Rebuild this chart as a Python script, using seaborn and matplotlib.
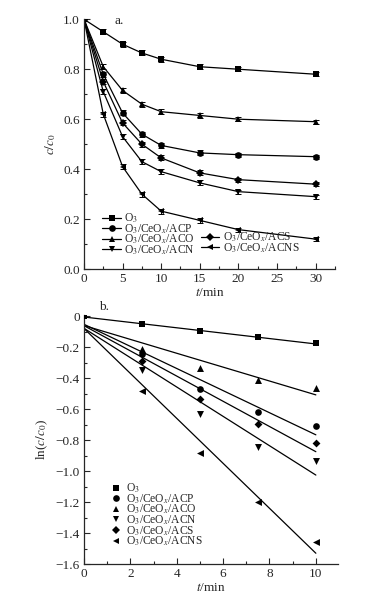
import numpy as np
import pandas as pd
import seaborn as sns
import matplotlib.pyplot as plt
from matplotlib.lines import Line2D
from matplotlib.ticker import MultipleLocator

# ---- data ----
samples = ['O3', 'ACP', 'ACO', 'ACN', 'ACS', 'ACNS']
labels = ['O$_3$', 'O$_3$/CeO$_x$/ACP', 'O$_3$/CeO$_x$/ACO',
          'O$_3$/CeO$_x$/ACN', 'O$_3$/CeO$_x$/ACS', 'O$_3$/CeO$_x$/ACNS']
markers = ['s', 'o', '^', 'v', 'D', '<']
msizes = [4.5, 4.8, 5, 5, 4, 5]

t_a = [0, 2.5, 5, 7.5, 10, 15, 20, 30]
c_o3 = [1.0, 0.95, 0.90, 0.865, 0.84, 0.81, 0.80, 0.78]
c_acp = [1.0, 0.78, 0.625, 0.54, 0.495, 0.465, 0.458, 0.45]
c_aco = [1.0, 0.81, 0.715, 0.66, 0.63, 0.615, 0.60, 0.59]
c_acn = [1.0, 0.71, 0.53, 0.43, 0.39, 0.345, 0.31, 0.29]
c_acs = [1.0, 0.75, 0.585, 0.50, 0.445, 0.385, 0.358, 0.34]
c_acns = [1.0, 0.62, 0.41, 0.30, 0.232, 0.195, 0.158, 0.12]
err_a = [0, 0.01, 0.01, 0.01, 0.01, 0.01, 0.008, 0.008]

t_b = [0, 2.5, 5, 7.5, 10]
ln_o3 = [0, -0.05, -0.095, -0.135, -0.175]
ln_acp = [0, -0.245, -0.47, -0.62, -0.705]
ln_aco = [0, -0.21, -0.335, -0.41, -0.46]
ln_acn = [0, -0.345, -0.63, -0.845, -0.935]
ln_acs = [0, -0.29, -0.535, -0.695, -0.815]
ln_acns = [0, -0.48, -0.885, -1.20, -1.455]

series_a = [c_o3, c_acp, c_aco, c_acn, c_acs, c_acns]
series_b = [ln_o3, ln_acp, ln_aco, ln_acn, ln_acs, ln_acns]

df_a = pd.DataFrame([(s, t, v) for s, vals in zip(samples, series_a)
                     for t, v in zip(t_a, vals)], columns=['sample', 't', 'c'])
df_b = pd.DataFrame([(s, t, v) for s, vals in zip(samples, series_b)
                     for t, v in zip(t_b, vals)], columns=['sample', 't', 'ln'])

sns.set_theme(style='ticks')
plt.rcParams['font.family'] = ['Liberation Serif', 'DejaVu Serif']
plt.rcParams['mathtext.fontset'] = 'stix'
plt.rcParams['axes.linewidth'] = 0.9

fig = plt.figure(figsize=(3.75, 6.02), dpi=100)
ax1 = fig.add_axes([0.224, 0.553, 0.669, 0.415])
ax2 = fig.add_axes([0.224, 0.063, 0.677, 0.414])

# ---- panel a ----
for s, m, ms in zip(samples, markers, msizes):
    sns.lineplot(data=df_a[df_a['sample'] == s], x='t', y='c', color='black',
                 marker=m, markersize=ms, markeredgewidth=0, linewidth=0.9,
                 ax=ax1)
for vals in series_a:
    ax1.errorbar(t_a, vals, yerr=err_a, fmt='none', ecolor='black',
                 elinewidth=0.7, capsize=2, capthick=0.7)

ax1.set_xlim(0, 32.5)
ax1.set_ylim(0, 1.0)
ax1.xaxis.set_major_locator(MultipleLocator(5))
ax1.xaxis.set_minor_locator(MultipleLocator(2.5))
ax1.yaxis.set_major_locator(MultipleLocator(0.2))
ax1.yaxis.set_minor_locator(MultipleLocator(0.1))
ax1.set_xlabel('$t$/min', fontsize=9.5, labelpad=1)
ax1.set_ylabel('$c/c_0$', fontsize=9.5, labelpad=4)
ax1.text(0.123, 0.995, 'a.', transform=ax1.transAxes, fontsize=9.5,
         va='center', ha='left')

h = [Line2D([], [], color='black', marker=m, markersize=ms, lw=0.9,
            markeredgewidth=0) for m, ms in zip(markers, msizes)]
blank = Line2D([], [], color='none')
ax1.legend([h[0], h[1], h[2], h[3], blank, blank, h[4], h[5]],
           [labels[0], labels[1], labels[2], labels[3], '', '',
            labels[4], labels[5]],
           ncol=2, loc='lower left', bbox_to_anchor=(0.055, 0.03),
           frameon=False, fontsize=8.3, handlelength=1.6, handletextpad=0.3,
           labelspacing=-0.25, columnspacing=0.5, borderaxespad=0)

# ---- panel b ----
for s, vals in zip(samples, series_b):
    sns.regplot(x=t_b, y=vals, ci=None, scatter=False, truncate=True,
                line_kws=dict(color='black', lw=0.9), ax=ax2)
for s, m, ms in zip(samples, markers, msizes):
    sub = df_b[(df_b['sample'] == s) & ((df_b['t'] > 0) | (df_b['sample'] == 'O3'))]
    sns.scatterplot(data=sub, x='t', y='ln', color='black', marker=m,
                    s=ms ** 2, linewidth=0, ax=ax2, zorder=3)

ax2.set_xlim(0, 10.95)
ax2.set_ylim(-1.6, 0.01)
ax2.xaxis.set_major_locator(MultipleLocator(2))
ax2.xaxis.set_minor_locator(MultipleLocator(1))
ax2.yaxis.set_minor_locator(MultipleLocator(0.1))
ax2.set_yticks(np.arange(-1.6, 0.01, 0.2))
ax2.set_yticklabels(['\u22121.6', '\u22121.4', '\u22121.2', '\u22121.0',
                     '\u22120.8', '\u22120.6', '\u22120.4', '\u22120.2', '0'])
ax2.set_xlabel('$t$/min', fontsize=9.5, labelpad=1)
ax2.set_ylabel('ln($c/c_0$)', fontsize=9.5, labelpad=4)
ax2.text(0.06, 1.03, 'b.', transform=ax2.transAxes, fontsize=9.5,
         va='center', ha='left')

hb = [Line2D([], [], color='black', marker=m, markersize=ms, lw=0,
             markeredgewidth=0) for m, ms in zip(markers, msizes)]
ax2.legend(hb, labels, loc='lower left', bbox_to_anchor=(0.09, 0.045),
           frameon=False, fontsize=8.3, handlelength=0.8, handletextpad=0.5,
           labelspacing=-0.25, borderaxespad=0)

for ax in (ax1, ax2):
    sns.despine(ax=ax)
    ax.tick_params(which='both', direction='in', labelsize=9.5, pad=3)
    ax.tick_params(which='major', length=4, width=0.8)
    ax.tick_params(which='minor', length=2, width=0.8)

fig.savefig('out.png', dpi=100)
